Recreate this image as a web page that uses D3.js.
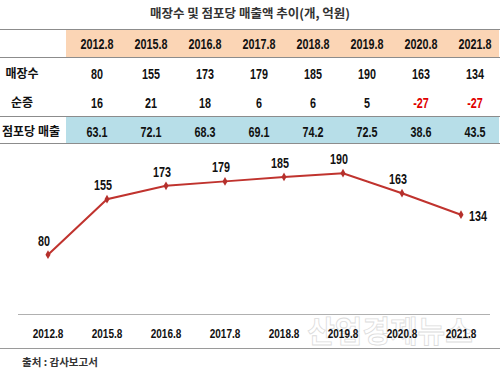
<!DOCTYPE html>
<html>
<head>
<meta charset="utf-8">
<script src="https://cdn.jsdelivr.net/npm/d3@7"></script>
<style>
  body { margin: 0; background: #fff; }
  svg { display: block; }
  .kr { font-family: "Noto Sans CJK KR", sans-serif; font-weight: 700; }
  .num { font-family: "Liberation Sans", Arial, sans-serif; font-weight: 700; }
</style>
</head>
<body>
<div id="chart"></div>
<script>
// 기간, 매장수, 순증, 점포당 매출
const periods = ['2012.8', '2015.8', '2016.8', '2017.8', '2018.8', '2019.8', '2020.8', '2021.8'];
const stores = [80, 155, 173, 179, 185, 190, 163, 134];
const netChange = [16, 21, 18, 6, 6, 5, -27, -27];
const salesPerStore = ['63.1', '72.1', '68.3', '69.1', '74.2', '72.5', '38.6', '43.5'];
const rowLabels = ['매장수', '순증', '점포당 매출'];

const W = 500, H = 377;
const SQUEEZE = 0.77; // 숫자는 좁은 글꼴처럼 보이게 가로로 줄임
const at = (px, py) => `translate(${px},${py}) scale(${SQUEEZE},1)`;

const svg = d3.select('#chart')
  .append('svg')
  .attr('width', W)
  .attr('height', H);

// 제목
svg.append('text')
  .attr('class', 'kr')
  .attr('x', 250)
  .attr('y', 18)
  .attr('text-anchor', 'middle')
  .attr('font-size', 12.5)
  .attr('fill', '#333')
  .text('매장수 및 점포당 매출액 추이(개, 억원)');

// ---- 표 ----
const col = d3.scaleBand().domain(periods).range([70, 502]);
const cx = (p) => col(p) + col.bandwidth() / 2;

// 배경 띠
svg.append('rect').attr('x', 66).attr('y', 30).attr('width', 433).attr('height', 27).attr('fill', '#fbd5b5');
svg.append('rect').attr('x', 66).attr('y', 117).attr('width', 433).attr('height', 26).attr('fill', '#b7dee8');

// 가로선
[29.5, 57.5, 116.5, 143.5].forEach((y) => {
  svg.append('line')
    .attr('x1', 0).attr('x2', W)
    .attr('y1', y).attr('y2', y)
    .attr('stroke', '#8c8c8c')
    .attr('stroke-width', 1);
});

// 헤더
svg.selectAll('.hdr')
  .data(periods)
  .enter()
  .append('text')
  .attr('class', 'num hdr')
  .attr('transform', (d) => at(cx(d), 49))
  .attr('text-anchor', 'middle')
  .attr('font-size', 14)
  .attr('fill', '#111')
  .text((d) => d);

// 행 제목
const rowY = [78, 107, 136];
const rowX = [22, 22, 31];
svg.selectAll('.rlab')
  .data(rowLabels)
  .enter()
  .append('text')
  .attr('class', 'kr rlab')
  .attr('x', (d, i) => rowX[i])
  .attr('y', (d, i) => rowY[i])
  .attr('text-anchor', 'middle')
  .attr('font-size', 12)
  .attr('fill', '#111')
  .text((d) => d);

// 행 값
const rows = [stores, netChange, salesPerStore];
rows.forEach((vals, r) => {
  svg.selectAll('.row' + r)
    .data(vals)
    .enter()
    .append('text')
    .attr('class', 'num row' + r)
    .attr('transform', (d, i) => at(cx(periods[i]), rowY[r] + 1))
    .attr('text-anchor', 'middle')
    .attr('font-size', 14)
    .attr('fill', (d) => (+d < 0 ? '#e00000' : '#111'))
    .text((d) => d);
});

// ---- 선 그래프 ----
const x = d3.scalePoint().domain(periods).range([48, 461]);
const y = d3.scaleLinear().domain([0, 220]).range([314, 151]);

// x축 기준선
svg.append('line')
  .attr('x1', 18).attr('x2', 490)
  .attr('y1', 314.5).attr('y2', 314.5)
  .attr('stroke', '#b0b0b0')
  .attr('stroke-width', 1.2);

// 워터마크
svg.append('text')
  .attr('class', 'kr')
  .attr('x', 390)
  .attr('y', 342)
  .attr('text-anchor', 'middle')
  .attr('font-size', 30)
  .attr('fill', 'none')
  .attr('stroke', '#dcdcdc')
  .attr('stroke-width', 0.8)
  .text('산업경제뉴스');

// x축 라벨
svg.selectAll('.xlab')
  .data(periods)
  .enter()
  .append('text')
  .attr('class', 'num xlab')
  .attr('transform', (d) => at(x(d), 338))
  .attr('text-anchor', 'middle')
  .attr('font-size', 13)
  .attr('fill', '#111')
  .text((d) => d);

// 하단선, 출처
svg.append('line')
  .attr('x1', 0).attr('x2', W)
  .attr('y1', 348.5).attr('y2', 348.5)
  .attr('stroke', '#9a9a9a')
  .attr('stroke-width', 1);

svg.append('text')
  .attr('class', 'kr')
  .attr('x', 22)
  .attr('y', 366)
  .attr('font-size', 10.5)
  .attr('fill', '#333')
  .text('출처 : 감사보고서');

// 선
const line = d3.line()
  .x((d, i) => x(periods[i]))
  .y((d) => y(d));

svg.append('path')
  .datum(stores)
  .attr('d', line)
  .attr('fill', 'none')
  .attr('stroke', '#c0332e')
  .attr('stroke-width', 2);

// 마커
svg.selectAll('.dot')
  .data(stores)
  .enter()
  .append('path')
  .attr('class', 'dot')
  .attr('d', d3.symbol(d3.symbolDiamond, 22))
  .attr('transform', (d, i) => `translate(${x(periods[i])},${y(d)})`)
  .attr('fill', '#b5302c');

// 데이터 라벨
const last = stores.length - 1;
svg.selectAll('.vlab')
  .data(stores)
  .enter()
  .append('text')
  .attr('class', 'num vlab')
  .attr('transform', (d, i) => (i === last
    ? at(x(periods[i]) + 8, y(d) + 6)
    : at(x(periods[i]) - 4, y(d) - 9)))
  .attr('text-anchor', (d, i) => (i === last ? 'start' : 'middle'))
  .attr('font-size', 14)
  .attr('fill', '#111')
  .text((d) => d);
</script>
</body>
</html>
